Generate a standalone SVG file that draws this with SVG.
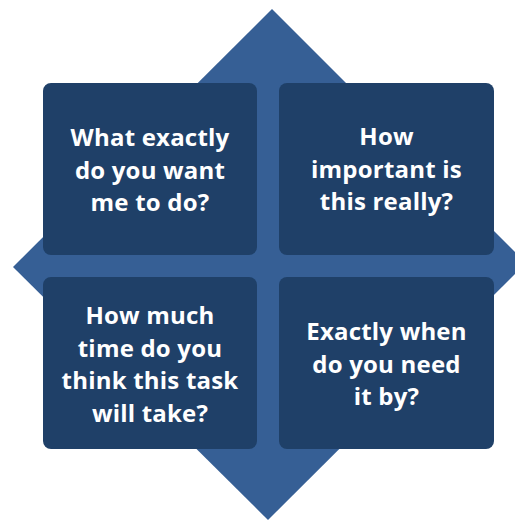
<svg xmlns="http://www.w3.org/2000/svg" width="515" height="522" viewBox="0 0 515 522">
  <style>
    .diamond { fill: #365f95; }
    .box { fill: #1f4068; }
    .label { fill: #ffffff; font-family: "Open Sans", Lato, "Liberation Sans", sans-serif; font-weight: 700; font-size: 24px; letter-spacing: 0.2px; text-anchor: middle; }
  </style>
  <!-- background diamond -->
  <g id="backdrop">
    <polygon class="diamond" points="272,9 526,263 268,520 13,267"/>
  </g>
  <g id="connectors"></g>
  <g id="node-what">
    <rect class="box" x="43" y="83" width="214" height="172" rx="8"/>
    <text class="label"><tspan x="150" y="146">What exactly</tspan><tspan x="150" y="178.5">do you want</tspan><tspan x="150" y="211">me to do?</tspan></text>
  </g>
  <g id="node-important">
    <rect class="box" x="279" y="83" width="215" height="172" rx="8"/>
    <text class="label"><tspan x="386.5" y="145">How</tspan><tspan x="386.5" y="177.5">important is</tspan><tspan x="386.5" y="210">this really?</tspan></text>
  </g>
  <g id="node-time">
    <rect class="box" x="43" y="277" width="214" height="172" rx="8"/>
    <text class="label"><tspan x="150" y="324">How much</tspan><tspan x="150" y="356.5">time do you</tspan><tspan x="150" y="389">think this task</tspan><tspan x="150" y="421.5">will take?</tspan></text>
  </g>
  <g id="node-when">
    <rect class="box" x="279" y="277" width="215" height="172" rx="8"/>
    <text class="label"><tspan x="386.5" y="340">Exactly when</tspan><tspan x="386.5" y="372.5">do you need</tspan><tspan x="386.5" y="405">it by?</tspan></text>
  </g>
</svg>
